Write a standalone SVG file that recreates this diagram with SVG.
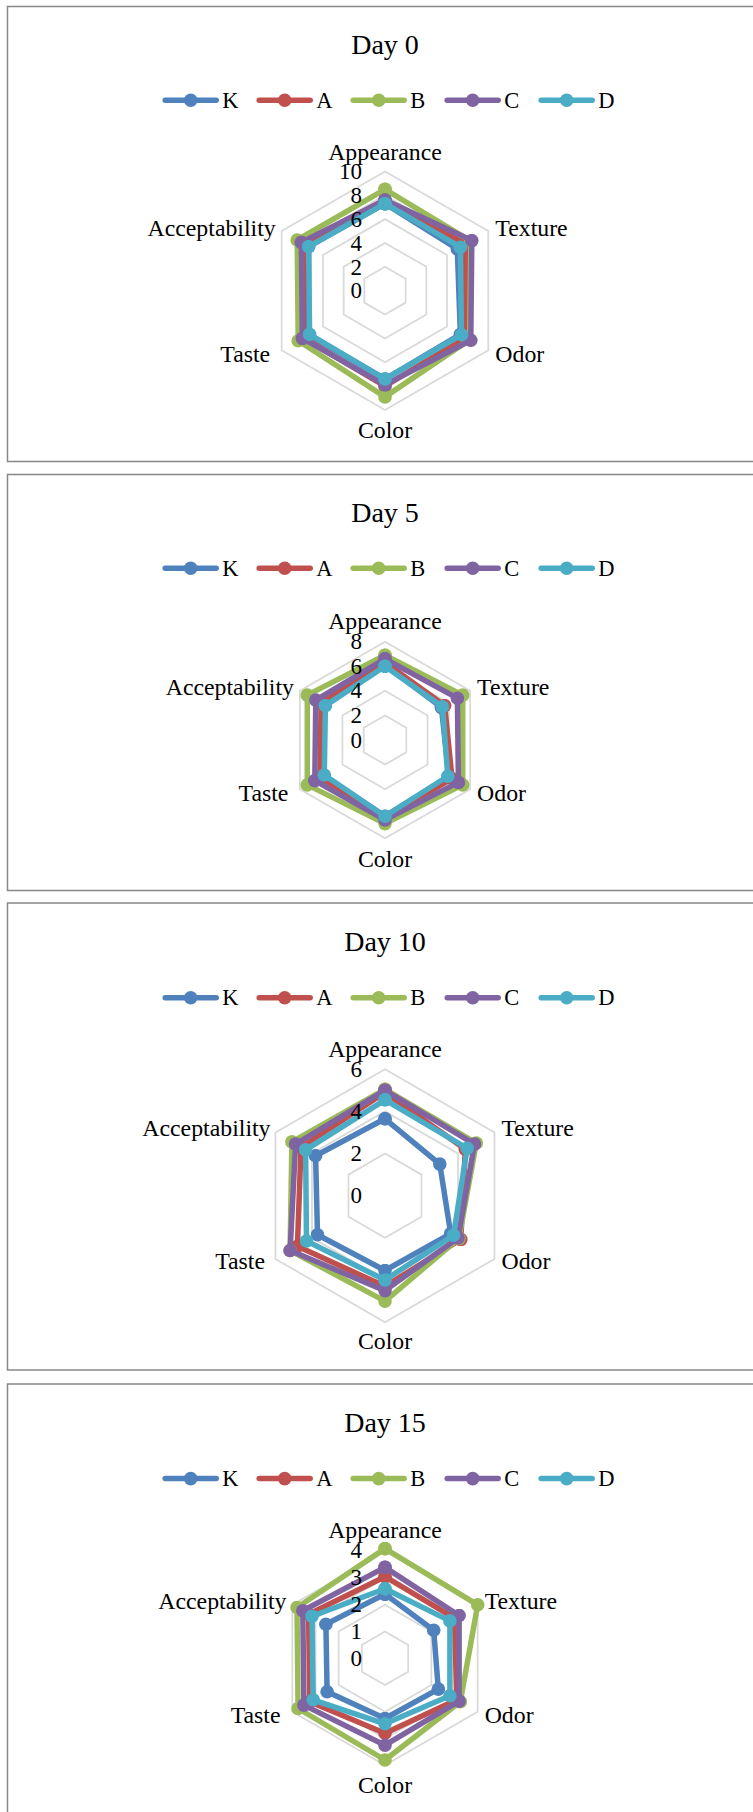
<svg xmlns="http://www.w3.org/2000/svg" xmlns:xlink="http://www.w3.org/1999/xlink" width="753" height="1812" viewBox="0 0 753 1812">
<style>
.frame{fill:#fff;stroke:#878787;stroke-width:1.5}
.grid{fill:none;stroke:#D9D9D9;stroke-width:1.75}
.t{font-family:"Liberation Serif","Times New Roman",serif;font-size:23px;fill:#000}
.cat{font-size:23.8px}
.title{font-size:28px;text-anchor:middle}
.lg{font-size:22.5px}
.mid{text-anchor:middle}
.end{text-anchor:end}
.s{fill:none;stroke-width:5.5;stroke-linejoin:round;stroke-linecap:round}
.lk{fill:none;stroke-width:5.5;stroke-linecap:round}
.K{stroke:#4F81BD;marker-start:url(#mK);marker-mid:url(#mK);marker-end:url(#mK)}
.A{stroke:#C0504D;marker-start:url(#mA);marker-mid:url(#mA);marker-end:url(#mA)}
.B{stroke:#9BBB59;marker-start:url(#mB);marker-mid:url(#mB);marker-end:url(#mB)}
.C{stroke:#8064A2;marker-start:url(#mC);marker-mid:url(#mC);marker-end:url(#mC)}
.D{stroke:#4BACC6;marker-start:url(#mD);marker-mid:url(#mD);marker-end:url(#mD)}
.lK{stroke:#4F81BD}.lA{stroke:#C0504D}.lB{stroke:#9BBB59}.lC{stroke:#8064A2}.lD{stroke:#4BACC6}
.fK{fill:#4F81BD}.fA{fill:#C0504D}.fB{fill:#9BBB59}.fC{fill:#8064A2}.fD{fill:#4BACC6}
</style>
<defs>
<polygon id="hex" points="0,-1 0.866,-0.5 0.866,0.5 0,1 -0.866,0.5 -0.866,-0.5" vector-effect="non-scaling-stroke"/>
<marker id="mK" viewBox="-7 -7 14 14" markerWidth="14" markerHeight="14" refX="0" refY="0" markerUnits="userSpaceOnUse"><circle r="6.8" fill="#4F81BD"/></marker>
<marker id="mA" viewBox="-7 -7 14 14" markerWidth="14" markerHeight="14" refX="0" refY="0" markerUnits="userSpaceOnUse"><circle r="6.8" fill="#C0504D"/></marker>
<marker id="mB" viewBox="-7 -7 14 14" markerWidth="14" markerHeight="14" refX="0" refY="0" markerUnits="userSpaceOnUse"><circle r="6.8" fill="#9BBB59"/></marker>
<marker id="mC" viewBox="-7 -7 14 14" markerWidth="14" markerHeight="14" refX="0" refY="0" markerUnits="userSpaceOnUse"><circle r="6.8" fill="#8064A2"/></marker>
<marker id="mD" viewBox="-7 -7 14 14" markerWidth="14" markerHeight="14" refX="0" refY="0" markerUnits="userSpaceOnUse"><circle r="6.8" fill="#4BACC6"/></marker>
<g id="legend">
<line class="lk lK" x1="165.2" y1="0" x2="216.2" y2="0"/><circle class="fK" cx="190.7" cy="0" r="6.8"/>
<line class="lk lA" x1="259.2" y1="0" x2="310.2" y2="0"/><circle class="fA" cx="284.7" cy="0" r="6.8"/>
<line class="lk lB" x1="353.2" y1="0" x2="404.2" y2="0"/><circle class="fB" cx="378.7" cy="0" r="6.8"/>
<line class="lk lC" x1="447.2" y1="0" x2="498.2" y2="0"/><circle class="fC" cx="472.7" cy="0" r="6.8"/>
<line class="lk lD" x1="541.2" y1="0" x2="592.2" y2="0"/><circle class="fD" cx="566.7" cy="0" r="6.8"/>
<text class="t lg" x="222.2" y="7.5">K</text>
<text class="t lg" x="316.2" y="7.5">A</text>
<text class="t lg" x="410.2" y="7.5">B</text>
<text class="t lg" x="504.2" y="7.5">C</text>
<text class="t lg" x="598.2" y="7.5">D</text>
</g>
</defs>

<g id="chart-day0">
<rect class="frame" x="7.5" y="6.5" width="760" height="455"/>
<text class="t title" x="385" y="53.5">Day 0</text>
<use xlink:href="#legend" href="#legend" y="100.2"/>
<g class="grid">
<use href="#hex" xlink:href="#hex" transform="translate(385,290.7) scale(23.86)"/>
<use href="#hex" xlink:href="#hex" transform="translate(385,290.7) scale(47.72)"/>
<use href="#hex" xlink:href="#hex" transform="translate(385,290.7) scale(71.58)"/>
<use href="#hex" xlink:href="#hex" transform="translate(385,290.7) scale(95.44)"/>
<use href="#hex" xlink:href="#hex" transform="translate(385,290.7) scale(119.3)"/>
</g>
<g id="series-day0">
<polygon class="s K" points="385,203.6 457.3,248.9 460.4,334.3 385,379.0 308.6,334.8 308.6,246.6"/>
<polygon class="s A" points="385,200.0 465.6,244.2 465.6,337.2 385,386.1 303.4,337.8 303.4,243.6"/>
<polygon class="s B" points="385,189.3 470.8,241.2 469.7,339.6 385,396.9 298.2,340.8 297.2,240.0"/>
<polygon class="s C" points="385,200.0 471.8,240.6 470.8,340.2 385,384.9 302.4,338.4 301.3,242.4"/>
<polygon class="s D" points="385,203.6 460.4,247.2 461.5,334.8 385,379.0 309.6,334.3 308.6,246.6"/>
</g>
<text class="t end" x="362" y="179">10</text>
<text class="t end" x="362" y="203">8</text>
<text class="t end" x="362" y="226.9">6</text>
<text class="t end" x="362" y="250.8">4</text>
<text class="t end" x="362" y="274.7">2</text>
<text class="t end" x="362" y="298.3">0</text>
<text class="t cat mid" x="385" y="159.5">Appearance</text>
<text class="t cat" x="495.3" y="235.6">Texture</text>
<text class="t cat" x="495.3" y="361.9">Odor</text>
<text class="t cat mid" x="385" y="438">Color</text>
<text class="t cat end" x="270.2" y="361.9">Taste</text>
<text class="t cat end" x="275.7" y="235.6">Acceptability</text>
</g>

<g id="chart-day5">
<rect class="frame" x="7.5" y="474.5" width="760" height="416"/>
<text class="t title" x="385" y="521.5">Day 5</text>
<use xlink:href="#legend" href="#legend" y="568.3"/>
<g class="grid">
<use href="#hex" xlink:href="#hex" transform="translate(385,740) scale(24.58)"/>
<use href="#hex" xlink:href="#hex" transform="translate(385,740) scale(49.16)"/>
<use href="#hex" xlink:href="#hex" transform="translate(385,740) scale(73.74)"/>
<use href="#hex" xlink:href="#hex" transform="translate(385,740) scale(98.32)"/>
</g>
<g id="series-day5">
<polygon class="s K" points="385,665.0 441.4,707.4 448.9,776.9 385,816.2 323.3,775.6 324.3,705.0"/>
<polygon class="s A" points="385,662.6 444.6,705.6 452.1,778.7 385,817.4 320.1,777.5 321.1,703.1"/>
<polygon class="s B" points="385,655.2 462.7,695.1 462.7,784.9 385,823.6 307.3,784.9 307.3,695.1"/>
<polygon class="s C" points="385,658.9 457.4,698.2 458.4,782.4 385,819.9 314.8,780.6 315.8,700.1"/>
<polygon class="s D" points="385,666.3 442.5,706.8 447.8,776.3 385,816.2 324.3,775.0 325.4,705.6"/>
</g>
<text class="t end" x="362" y="649.3">8</text>
<text class="t end" x="362" y="674">6</text>
<text class="t end" x="362" y="698.4">4</text>
<text class="t end" x="362" y="723">2</text>
<text class="t end" x="362" y="747.6">0</text>
<text class="t cat mid" x="385" y="628.5">Appearance</text>
<text class="t cat" x="477.1" y="695.3">Texture</text>
<text class="t cat" x="477.1" y="800.5">Odor</text>
<text class="t cat mid" x="385" y="866.5">Color</text>
<text class="t cat end" x="288.4" y="800.5">Taste</text>
<text class="t cat end" x="293.9" y="695.3">Acceptability</text>
</g>

<g id="chart-day10">
<rect class="frame" x="7.5" y="903" width="760" height="467"/>
<text class="t title" x="385" y="950.8">Day 10</text>
<use xlink:href="#legend" href="#legend" y="997.8"/>
<g class="grid">
<use href="#hex" xlink:href="#hex" transform="translate(385,1195.7) scale(42.16)"/>
<use href="#hex" xlink:href="#hex" transform="translate(385,1195.7) scale(84.32)"/>
<use href="#hex" xlink:href="#hex" transform="translate(385,1195.7) scale(126.48)"/>
</g>
<g id="series-day10">
<polygon class="s K" points="385,1118.8 439.8,1164.1 450.7,1233.6 385,1270.5 317.5,1234.7 315.6,1155.7"/>
<polygon class="s A" points="385,1092.4 465.3,1149.3 460.8,1239.4 385,1286.3 297.4,1246.3 301.0,1147.2"/>
<polygon class="s B" points="385,1089.3 476.3,1143.0 458.9,1238.4 385,1301.1 290.1,1250.5 291.9,1141.9"/>
<polygon class="s C" points="385,1090.3 474.5,1144.1 458.0,1237.9 385,1290.6 290.1,1250.5 295.6,1144.1"/>
<polygon class="s D" points="385,1099.8 467.2,1148.3 453.5,1235.2 385,1280.0 306.5,1241.0 305.6,1149.9"/>
</g>
<text class="t end" x="362" y="1076.8">6</text>
<text class="t end" x="362" y="1119">4</text>
<text class="t end" x="362" y="1161.1">2</text>
<text class="t end" x="362" y="1203.3">0</text>
<text class="t cat mid" x="385" y="1056.7">Appearance</text>
<text class="t cat" x="501.5" y="1136">Texture</text>
<text class="t cat" x="501.5" y="1269">Odor</text>
<text class="t cat mid" x="385" y="1349">Color</text>
<text class="t cat end" x="265" y="1269">Taste</text>
<text class="t cat end" x="270.5" y="1136">Acceptability</text>
</g>

<g id="chart-day15">
<rect class="frame" x="7.5" y="1384" width="760" height="500"/>
<text class="t title" x="385" y="1431.6">Day 15</text>
<use xlink:href="#legend" href="#legend" y="1478.6"/>
<g class="grid">
<use href="#hex" xlink:href="#hex" transform="translate(385,1658.3) scale(26.75)"/>
<use href="#hex" xlink:href="#hex" transform="translate(385,1658.3) scale(53.5)"/>
<use href="#hex" xlink:href="#hex" transform="translate(385,1658.3) scale(80.25)"/>
<use href="#hex" xlink:href="#hex" transform="translate(385,1658.3) scale(107)"/>
</g>
<g id="series-day15">
<polygon class="s K" points="385,1594.1 433.7,1630.2 438.3,1689.1 385,1718.5 327.1,1691.7 325.9,1624.2"/>
<polygon class="s A" points="385,1576.7 454.5,1618.2 456.8,1699.8 385,1733.2 309.7,1701.8 308.6,1614.2"/>
<polygon class="s B" points="385,1548.6 477.7,1604.8 460.3,1701.8 385,1760.0 298.1,1708.5 297.0,1607.5"/>
<polygon class="s C" points="385,1567.4 459.1,1615.5 459.1,1701.1 385,1745.2 303.9,1705.1 302.8,1610.8"/>
<polygon class="s D" points="385,1588.8 449.9,1620.9 449.9,1695.8 385,1723.8 313.2,1699.8 312.0,1616.2"/>
</g>
<text class="t end" x="362" y="1558.2">4</text>
<text class="t end" x="362" y="1585.3">3</text>
<text class="t end" x="362" y="1612.2">2</text>
<text class="t end" x="362" y="1639.2">1</text>
<text class="t end" x="362" y="1665.6">0</text>
<text class="t cat mid" x="385" y="1538.3">Appearance</text>
<text class="t cat" x="484.7" y="1609">Texture</text>
<text class="t cat" x="484.7" y="1723">Odor</text>
<text class="t cat mid" x="385" y="1793.3">Color</text>
<text class="t cat end" x="280.5" y="1723">Taste</text>
<text class="t cat end" x="286.5" y="1609">Acceptability</text>
</g>
</svg>
